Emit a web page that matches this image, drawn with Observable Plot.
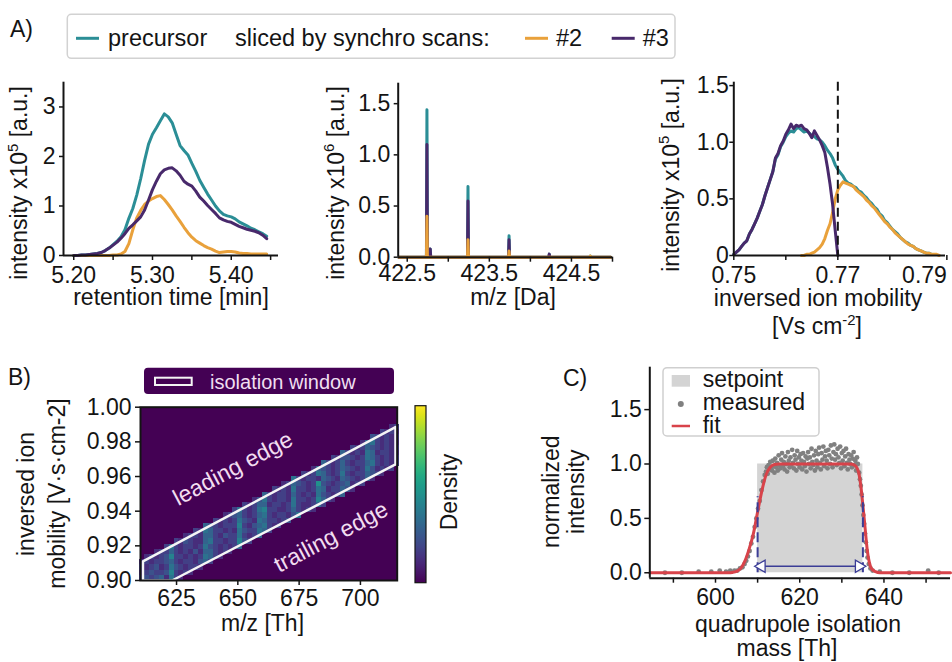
<!DOCTYPE html>
<html>
<head>
<meta charset="utf-8">
<title>Synchro scan slicing and quadrupole isolation</title>
<script src="https://cdn.jsdelivr.net/npm/d3@7"></script>
<script src="https://cdn.jsdelivr.net/npm/@observablehq/plot@0.6"></script>
<style>
  html, body { margin: 0; padding: 0; background: #fff; }
  #fig { position: relative; width: 952px; height: 662px; overflow: hidden; background: #fff; }
</style>
</head>
<body>
<div id="fig"></div>
<script>
// ---------------- A) elution profiles over retention time ----------------
const rtTime = [
  5.200,5.205,5.210,5.215,5.220,5.225,5.230,5.235,5.240,5.245,
  5.250,5.255,5.260,5.265,5.270,5.275,5.280,5.285,5.290,5.295,
  5.300,5.305,5.310,5.315,5.320,5.325,5.330,5.335,5.340,5.345,
  5.350,5.355,5.360,5.365,5.370,5.375,5.380,5.385,5.390,5.395,
  5.400,5.405,5.410,5.415,5.420,5.425,5.430,5.435,5.440,5.445];
const rtPrecursor = [
  0.00,0.00,0.01,0.01,0.02,0.03,0.04,0.06,0.10,0.15,
  0.22,0.29,0.38,0.52,0.75,0.95,1.22,1.55,1.92,2.25,
  2.45,2.58,2.72,2.86,2.80,2.68,2.45,2.22,2.12,2.03,
  1.86,1.70,1.52,1.38,1.24,1.12,1.00,0.90,0.83,0.80,
  0.78,0.74,0.68,0.64,0.60,0.55,0.52,0.48,0.44,0.39];
const rtScan3 = [
  0.00,0.00,0.01,0.01,0.02,0.03,0.04,0.06,0.10,0.15,
  0.21,0.27,0.35,0.44,0.55,0.62,0.70,0.78,0.92,1.12,
  1.33,1.50,1.65,1.73,1.76,1.77,1.71,1.62,1.50,1.44,
  1.40,1.30,1.18,1.10,1.01,0.93,0.85,0.76,0.72,0.69,
  0.67,0.63,0.59,0.56,0.53,0.51,0.49,0.46,0.41,0.34];
const rtScan2 = [
  0.00,0.00,0.00,0.00,0.00,0.00,0.00,0.00,0.00,0.00,
  0.01,0.01,0.03,0.08,0.24,0.52,0.76,0.91,1.03,1.10,
  1.15,1.19,1.21,1.13,1.03,0.92,0.80,0.69,0.57,0.46,
  0.37,0.30,0.25,0.20,0.16,0.13,0.09,0.06,0.07,0.08,
  0.08,0.07,0.05,0.04,0.04,0.03,0.03,0.03,0.03,0.03];

// ---------------- A) isotope pattern ----------------
const isoMz        = [422.74, 422.78, 423.24, 423.74, 424.23, 424.73];
const isoPrecursor = [1.44, 0.08, 0.69, 0.21, 0.03, 0.01];
const isoScan3     = [1.10, 0.08, 0.55, 0.17, 0.03, 0.00];
const isoScan2     = [0.40, 0.00, 0.17, 0.06, 0.00, 0.01];
const mzScanRange  = [422.40, 424.98];

// ---------------- A) ion mobility profiles ----------------
const mobility = [
  0.7500,0.7505,0.7510,0.7515,0.7520,0.7525,0.7530,0.7535,0.7540,0.7545,
  0.7550,0.7555,0.7560,0.7565,0.7570,0.7575,0.7580,0.7585,0.7590,0.7595,
  0.7600,0.7605,0.7610,0.7615,0.7620,0.7625,0.7630,0.7635,0.7640,0.7645,
  0.7650,0.7655,0.7660,0.7665,0.7670,0.7675,0.7680,0.7685,0.7690,0.7695,
  0.7700,0.7705,0.7710,0.7715,0.7720,0.7725,0.7730,0.7735,0.7740,0.7745,
  0.7750,0.7755,0.7760,0.7765,0.7770,0.7775,0.7780,0.7785,0.7790,0.7795,
  0.7800,0.7805,0.7810,0.7815,0.7820,0.7825,0.7830,0.7835,0.7840,0.7845,
  0.7850,0.7855,0.7860,0.7865,0.7870,0.7875,0.7880,0.7885,0.7890,0.7895];
const imPrecursor = [
  0.01,0.03,0.05,0.08,0.11,0.13,0.19,0.23,0.28,0.33,
  0.39,0.45,0.53,0.60,0.67,0.74,0.85,0.89,0.96,1.00,
  1.05,1.08,1.10,1.09,1.12,1.13,1.11,1.09,1.10,1.08,
  1.06,1.05,1.03,1.02,1.00,0.97,0.93,0.90,0.86,0.80,
  0.76,0.73,0.70,0.66,0.64,0.63,0.61,0.60,0.57,0.56,
  0.53,0.51,0.48,0.46,0.43,0.41,0.37,0.35,0.31,0.29,
  0.26,0.23,0.21,0.19,0.16,0.14,0.12,0.11,0.09,0.08,
  0.06,0.05,0.04,0.03,0.02,0.02,0.01];
const imScan3 = [
  0.01,0.03,0.05,0.08,0.11,0.13,0.19,0.23,0.28,0.33,
  0.39,0.45,0.53,0.60,0.67,0.74,0.86,0.90,0.97,1.01,
  1.07,1.11,1.16,1.12,1.15,1.14,1.15,1.12,1.11,1.08,
  1.04,1.10,1.06,1.02,0.97,0.91,0.78,0.63,0.45,0.22,
  0.00];
const imScan2 = [
  null,null,null,null,null,null,null,null,null,null,
  null,null,null,null,null,null,null,null,null,null,
  null,null,null,null,null,null,0.00,0.00,0.01,0.01,
  0.02,0.03,0.05,0.07,0.10,0.15,0.22,0.28,0.38,0.50,
  0.58,0.62,0.65,0.64,0.63,0.62,0.61,0.58,0.56,0.54,
  0.52,0.49,0.47,0.44,0.42,0.39,0.36,0.33,0.30,0.28,
  0.25,0.23,0.20,0.18,0.16,0.14,0.12,0.10,0.09,0.08,
  0.06,0.05,0.04,0.03,0.02,0.02,0.01,0.01,0.01,0.00];
const sliceBoundary = [0.77];

// ---------------- B) precursor density in m/z vs. mobility ----------------
// density level per bin (0 = empty); bins of 2 Th (columns) by 0.003 Vs/cm2 (rows)
const mzBinStart = 610, mzBinWidth = 2;
const imBinStart = 0.900, imBinHeight = 0.003;
const densityRows = [
  "343452632",
  "2343347323 2",
  "3234236432 332",
  "2323345323 32453",
  ".232347332 3236532",
  "...2335323 242553232",
  ".....36323 3236432323 5",
  ".......324 3225633233 743",
  ".........2 3325532433 63235",
  ".......... .326533232 6433653",
  ".......... ...5432333 732456323",
  ".......... .....32323 6432653323 4",
  ".......... .......234 5323563233 246",
  ".......... .........3 6323673322 353232",
  ".......... .......... .323552332 36322353",
  ".......... .......... ...2463233 2633237532",
  ".......... .......... .....53233 2532326432 35",
  ".......... .......... .......323 2633236523 3542",
  ".......... .......... .........2 3543238432 345233",
  ".......... .......... .......... .632332543 25432352",
  ".......... .......... .......... ...3236532 3632335432",
  ".......... .......... .......... .....25432 3543236423 23",
  ".......... .......... .......... .......532 3532335632 323",
  ".......... .......... .......... .........3 2443236532 323",
  ".......... .......... .......... .......... .532326523 322",
  ".......... .......... .......... .......... ...3235432 323",
  ".......... .......... .......... .......... .....25632 322",
  ".......... .......... .......... .......... .......432 323",
  ".......... .......... .......... .......... .........3 232",
  ".......... .......... .......... .......... .......... .23"
];
// isolation window polygon (m/z, 1/K0)
const windowMz = [611.3, 611.3, 714.3, 714.3, 623.2];
const windowIm = [0.900, 0.911, 0.9885, 0.967, 0.900];
const edgeLabels = ["leading edge", "trailing edge"];
const edgeLabelMz = [648.0, 688.0];
const edgeLabelIm = [0.9645, 0.9250];

// ---------------- C) quadrupole isolation profile ----------------
const setpointMass = [610, 635];
const setpointLevel = 1.0;
const measuredMass = [
  588.0,592.0,596.0,599.0,601.0,602.5,603.5,604.5,605.2,
  605.8,606.4,606.9,607.3,607.7,608.1,608.5,608.9,609.3,609.7,610.1,610.5,610.9,611.3,611.7,
  612.0,612.2,612.4,612.6,612.8,613.0,613.2,613.4,613.6,613.8,614.0,
  614.2,614.4,614.6,614.8,615.0,615.2,615.4,615.6,615.8,616.0,
  616.2,616.4,616.6,616.8,617.0,617.2,617.4,617.6,617.8,618.0,
  618.2,618.4,618.6,618.8,619.0,619.2,619.4,619.6,619.8,620.0,
  620.2,620.4,620.6,620.8,621.0,621.2,621.4,621.6,621.8,622.0,
  622.2,622.4,622.6,622.8,623.0,623.2,623.4,623.6,623.8,624.0,
  624.2,624.4,624.6,624.8,625.0,625.2,625.4,625.6,625.8,626.0,
  626.2,626.4,626.6,626.8,627.0,627.2,627.4,627.6,627.8,628.0,
  628.2,628.4,628.6,628.8,629.0,629.2,629.4,629.6,629.8,630.0,
  630.2,630.4,630.6,630.8,631.0,631.2,631.4,631.6,631.8,632.0,
  632.2,632.4,632.6,632.8,633.0,633.2,633.4,633.6,633.8,
  634.1,634.3,634.5,634.7,634.9,635.1,635.3,635.5,635.7,635.9,636.1,636.4,636.8,637.3,
  639.0,642.0,646.0,650.5,653.0];
const measuredIntensity = [
  0.00,0.00,0.01,0.01,0.02,0.01,0.02,0.02,0.02,
  0.04,0.05,0.08,0.11,0.15,0.20,0.27,0.33,0.42,0.50,0.59,0.66,0.76,0.84,0.90,
  0.93,0.97,0.91,0.99,0.95,1.02,0.96,0.94,1.03,0.98,0.92,
  1.05,0.97,1.01,0.94,1.08,0.99,0.96,1.04,1.10,0.98,
  1.02,0.95,1.07,1.00,0.93,1.11,1.03,0.97,1.06,0.99,
  1.13,1.01,0.96,1.08,1.04,0.94,1.12,1.00,1.06,0.97,
  1.09,1.03,0.95,1.10,1.02,0.98,1.07,0.93,1.05,1.11,
  1.00,1.06,0.96,1.14,1.02,0.99,1.08,0.94,1.12,1.03,
  0.97,1.09,1.15,1.01,0.95,1.10,1.04,1.16,0.98,1.07,
  1.12,1.03,0.96,1.13,1.08,1.00,1.17,1.05,0.97,1.11,
  1.18,1.04,1.09,0.99,1.14,1.06,1.01,1.16,0.96,1.10,
  1.03,1.12,0.98,1.07,1.14,1.01,0.95,1.09,1.04,1.00,
  1.08,0.97,1.05,1.11,0.99,1.03,0.94,1.06,1.00,
  0.92,0.86,0.80,0.72,0.62,0.53,0.45,0.36,0.28,0.20,0.14,0.08,0.04,0.02,
  0.01,0.00,0.00,0.02,0.00];
const fitMass = [584.4,595.0,603.0,604.0,605.0,606.0,607.0,608.0,609.0,610.0,611.0,612.0,613.0,614.0,615.0,
  624.0,632.0,633.0,633.5,634.0,634.5,635.0,635.5,636.0,636.5,637.0,638.0,639.0,645.0,655.8];
const fitIntensity = [0,0,0,0.003,0.012,0.04,0.11,0.22,0.36,0.56,0.75,0.90,0.97,0.995,1.0,
  1.0,1.0,0.99,0.97,0.92,0.80,0.62,0.42,0.22,0.10,0.04,0.01,0,0,0];
const isolationEdges = [610, 635];
const edgeMarkerTop = 0.70;
const widthArrowLevel = 0.06;

// ---------------- shared look ----------------
const W = 952, H = 662;
const FONT = '"Liberation Sans", Arial, Helvetica, sans-serif';
const INK = "#141414";
const TEAL = "#2b8e96", ORANGE = "#e9a13b", PURPLE = "#48296b";
const NAVY = "#3b3d96", RED = "#d8434a", GREY_DOT = "#808080", SETPOINT = "#d4d4d4";
const VIRIDIS_LOW = d3.interpolateViridis(0);
const fig = document.getElementById("fig");
const baseStyle = {fontFamily: FONT, fontSize: "23px", color: INK, background: "transparent", overflow: "visible"};

function mount(node, left, top) {
  node.style.position = "absolute";
  node.style.left = left + "px";
  node.style.top = top + "px";
  node.style.maxWidth = "none";
  fig.appendChild(node);
  return node;
}
function spines(xd, yd) {
  return [
    Plot.ruleX([xd[0]], {stroke: INK, strokeWidth: 2}),
    Plot.ruleY([yd[0]], {stroke: INK, strokeWidth: 2})
  ];
}
function xAxis(ticks, fmt, {minor = null, pad = 6, size = 5} = {}) {
  const marks = [Plot.axisX(ticks, {tickFormat: fmt, tickSize: size, tickPadding: pad, strokeWidth: 1.5, label: null})];
  if (minor) marks.push(Plot.axisX(minor, {tickFormat: () => "", tickSize: size, strokeWidth: 1.5, label: null}));
  return marks;
}
function yAxis(ticks, fmt, {pad = 4, size = 4} = {}) {
  return Plot.axisY(ticks, {tickFormat: fmt, tickSize: size, tickPadding: pad, strokeWidth: 1.5, label: null});
}
const f1 = d => d === 0 ? "0" : d.toFixed(1);

// ---------------- A1: retention time ----------------
const rtX = [5.187, 5.46], rtY = [0, 3.5];
mount(Plot.plot({
  width: 290, height: 240, marginLeft: 63, marginRight: 12, marginTop: 21.7, marginBottom: 45,
  x: {domain: rtX}, y: {domain: rtY}, style: baseStyle,
  marks: [
    Plot.line(rtTime, {x: rtTime, y: rtPrecursor, stroke: TEAL, strokeWidth: 3}),
    Plot.line(rtTime, {x: rtTime, y: rtScan2, stroke: ORANGE, strokeWidth: 3}),
    Plot.line(rtTime, {x: rtTime, y: rtScan3, stroke: PURPLE, strokeWidth: 3}),
    ...spines(rtX, rtY),
    ...xAxis([5.20, 5.30, 5.40], d => d.toFixed(2), {minor: [5.25, 5.35, 5.45]}),
    yAxis([0, 1, 2, 3], d => String(d))
  ]
}), 0, 60);

// ---------------- A2: isotope pattern ----------------
function isotopeProfile(heights) {
  const pts = [{mz: mzScanRange[0], v: 0}];
  isoMz.forEach((mz, i) => pts.push({mz: mz - 0.006, v: 0}, {mz, v: heights[i]}, {mz: mz + 0.006, v: 0}));
  pts.push({mz: mzScanRange[1], v: 0});
  return pts;
}
const mzX = [422.39, 425.0], mzY = [0, 1.7];
mount(Plot.plot({
  width: 280, height: 240, marginLeft: 47.7, marginRight: 18, marginTop: 22.7, marginBottom: 43.3,
  x: {domain: mzX}, y: {domain: mzY}, style: baseStyle,
  marks: [
    Plot.line(isotopeProfile(isoPrecursor), {x: "mz", y: "v", stroke: TEAL, strokeWidth: 3}),
    Plot.line(isotopeProfile(isoScan3), {x: "mz", y: "v", stroke: PURPLE, strokeWidth: 3}),
    Plot.line(isotopeProfile(isoScan2), {x: "mz", y: "v", stroke: ORANGE, strokeWidth: 3}),
    ...spines(mzX, mzY),
    ...xAxis([422.5, 423.5, 424.5], d => d.toFixed(1), {minor: [423.0, 424.0, 425.0], pad: 2}),
    yAxis([0, 0.5, 1.0, 1.5], d => d.toFixed(1))
  ]
}), 350, 60);

// ---------------- A3: ion mobility ----------------
const imX = [0.75, 0.7907], imY = [0, 1.53];
const imSeries = arr => mobility.map((_, i) => arr[i] ?? null);
mount(Plot.plot({
  width: 272, height: 240, marginLeft: 53.3, marginRight: 7, marginTop: 21.7, marginBottom: 45,
  x: {domain: imX}, y: {domain: imY}, style: baseStyle,
  marks: [
    Plot.line(mobility, {x: mobility, y: imSeries(imPrecursor), stroke: TEAL, strokeWidth: 3}),
    Plot.line(mobility, {x: mobility, y: imSeries(imScan2), stroke: ORANGE, strokeWidth: 3}),
    Plot.line(mobility, {x: mobility, y: imSeries(imScan3), stroke: PURPLE, strokeWidth: 3}),
    Plot.ruleX(sliceBoundary, {stroke: INK, strokeWidth: 2, strokeDasharray: "9,5"}),
    ...spines(imX, imY),
    ...xAxis([0.75, 0.77], d => d.toFixed(2), {minor: [0.76, 0.78]}),
    // last label kept inside the figure edge
    Plot.axisX([0.79], {tickFormat: d => d.toFixed(2), tickSize: 5, tickPadding: 6, strokeWidth: 1.5, label: null, textAnchor: "end", dx: 5}),
    yAxis([0, 0.5, 1.0, 1.5], f1, {pad: 1})
  ]
}), 680, 60);

// ---------------- B: density heatmap ----------------
const densityCells = [];
densityRows.forEach((row, r) => {
  [...row.replace(/ /g, "")].forEach((ch, c) => {
    if (ch === ".") return;
    const x1 = mzBinStart + c * mzBinWidth, y1 = imBinStart + r * imBinHeight;
    densityCells.push({x1, x2: x1 + mzBinWidth, y1, y2: y1 + imBinHeight, level: +ch});
  });
});
const windowLoop = [...windowMz.keys(), 0];
const bX = [610.3, 715.0], bY = [0.90, 1.00];
const panelB = mount(Plot.plot({
  width: 350, height: 225, marginLeft: 80, marginRight: 13.3, marginTop: 11.7, marginBottom: 40,
  x: {domain: bX}, y: {domain: bY}, style: baseStyle,
  color: {type: "linear", scheme: "viridis", domain: [0, 16]},
  marks: [
    Plot.frame({fill: VIRIDIS_LOW, stroke: "none"}),
    Plot.rect(densityCells, {x1: "x1", x2: "x2", y1: "y1", y2: "y2", fill: "level", ariaLabel: "density", shapeRendering: "crispEdges"}),
    Plot.line(windowLoop, {x: i => windowMz[i], y: i => windowIm[i], stroke: "#f5f5f5", strokeWidth: 2.5}),
    Plot.text(edgeLabels, {x: edgeLabelMz, y: edgeLabelIm, text: d => d, rotate: -28, fill: "#f2ddf0", fontSize: 23}),
    Plot.frame({stroke: INK, strokeWidth: 2}),
    ...xAxis([625, 650, 675, 700], d => String(d), {pad: 4}),
    yAxis([0.90, 0.92, 0.94, 0.96, 0.98, 1.00], d => d.toFixed(2), {pad: 4, size: 5})
  ]
}), 60, 395);
// keep the density inside the isolation window
{
  const sx = panelB.scale("x"), sy = panelB.scale("y");
  const ns = "http://www.w3.org/2000/svg";
  const defs = document.createElementNS(ns, "defs");
  const clip = document.createElementNS(ns, "clipPath");
  clip.setAttribute("id", "isolation-window-clip");
  const poly = document.createElementNS(ns, "polygon");
  poly.setAttribute("points", windowMz.map((m, i) => `${sx.apply(m)},${sy.apply(windowIm[i])}`).join(" "));
  clip.appendChild(poly);
  defs.appendChild(clip);
  panelB.insertBefore(defs, panelB.firstChild);
  const g = panelB.querySelector('g[aria-label="density"]');
  if (g) g.setAttribute("clip-path", "url(#isolation-window-clip)");
}

// ---------------- C: quadrupole isolation ----------------
const cX = [584.4, 655.8], cY = [-0.05, 1.89];
mount(Plot.plot({
  width: 362, height: 260, marginLeft: 59.3, marginRight: 2, marginTop: 11.7, marginBottom: 37.3,
  x: {domain: cX}, y: {domain: cY}, style: baseStyle,
  marks: [
    Plot.rect([setpointMass], {x1: d => d[0], x2: d => d[1], y1: 0, y2: setpointLevel, fill: SETPOINT}),
    Plot.dot(measuredMass, {x: measuredMass, y: measuredIntensity, r: 2.4, fill: GREY_DOT, stroke: "none"}),
    Plot.line(fitMass, {x: fitMass, y: fitIntensity, stroke: RED, strokeWidth: 3, curve: "monotone-x"}),
    Plot.ruleX(isolationEdges, {y1: 0, y2: edgeMarkerTop, stroke: NAVY, strokeWidth: 2, strokeDasharray: "10,5"}),
    Plot.link([isolationEdges], {x1: d => d[0], x2: d => d[1], y1: widthArrowLevel, y2: widthArrowLevel, stroke: NAVY, strokeWidth: 1.5}),
    Plot.dot([isolationEdges[0]], {x: d => d, y: widthArrowLevel, symbol: "triangle", rotate: -90, r: 4.5, dx: 4, fill: "white", stroke: NAVY, strokeWidth: 1.3}),
    Plot.dot([isolationEdges[1]], {x: d => d, y: widthArrowLevel, symbol: "triangle", rotate: 90, r: 4.5, dx: -4, fill: "white", stroke: NAVY, strokeWidth: 1.3}),
    ...spines(cX, cY),
    ...xAxis([600, 620, 640], d => String(d), {minor: [590, 610, 630, 650], pad: 5}),
    yAxis([0, 0.5, 1.0, 1.5], d => d.toFixed(1), {pad: 3, size: 5})
  ]
}), 590, 355);

// ---------------- titles, legends, colour bar ----------------
const ov = d3.select(fig).append("svg")
  .attr("width", W).attr("height", H)
  .style("position", "absolute").style("left", "0px").style("top", "0px")
  .attr("font-family", FONT);

function label(x, y, parts, {size = 23, anchor = "middle", rotate = 0, fill = INK} = {}) {
  const t = ov.append("text")
    .attr("transform", `translate(${x},${y})` + (rotate ? ` rotate(${rotate})` : ""))
    .attr("text-anchor", anchor).attr("font-size", size).attr("fill", fill);
  let raised = false;
  for (const p of [].concat(parts)) {
    const sup = typeof p === "object";
    const span = t.append("tspan").text(sup ? p.sup : p);
    if (sup) { span.attr("dy", -0.4 * size).attr("font-size", size * 0.65); raised = true; }
    else if (raised) { span.attr("dy", 0.4 * size); raised = false; }
  }
  return t;
}

// panel letters
label(10, 37, "A)", {anchor: "start"});
label(8, 385, "B)", {anchor: "start"});
label(563, 386, "C)", {anchor: "start"});

// A axis titles
label(26.8, 183, ["intensity x10", {sup: "5"}, " [a.u.]"], {rotate: -90});
label(343.5, 183, ["intensity x10", {sup: "6"}, " [a.u.]"], {rotate: -90});
label(678.5, 175, ["intensity x10", {sup: "5"}, " [a.u.]"], {rotate: -90});
label(171, 305, "retention time [min]");
label(513, 305, "m/z [Da]");
label(818, 306, "inversed ion mobility");
label(817, 334, ["[Vs cm", {sup: "-2"}, "]"]);

// A legend
ov.append("rect").attr("x", 67.3).attr("y", 14.3).attr("width", 607.7).attr("height", 44).attr("rx", 4)
  .attr("fill", "#fff").attr("stroke", "#d2d2d2").attr("stroke-width", 1.5);
[[76, TEAL], [525, ORANGE], [611.7, PURPLE]].forEach(([x, c]) =>
  ov.append("line").attr("x1", x).attr("x2", x + 23).attr("y1", 38.3).attr("y2", 38.3).attr("stroke", c).attr("stroke-width", 3));
label(108, 45.5, "precursor", {anchor: "start", size: 23.5});
label(235, 45.5, "sliced by synchro scans:", {anchor: "start", size: 23.5});
label(556, 45.5, "#2", {anchor: "start", size: 23.5});
label(642.7, 45.5, "#3", {anchor: "start", size: 23.5});

// B titles, legend and colour bar
label(33.8, 494, "inversed ion", {rotate: -90});
label(64.8, 493.5, "mobility [V\u00b7s\u00b7cm-2]", {rotate: -90});
label(262.5, 631, "m/z [Th]");
ov.append("rect").attr("x", 144).attr("y", 367.7).attr("width", 250).attr("height", 26.3).attr("rx", 4).attr("fill", VIRIDIS_LOW);
ov.append("rect").attr("x", 155).attr("y", 377.7).attr("width", 36.7).attr("height", 7.3).attr("fill", "none").attr("stroke", "#f5f5f5").attr("stroke-width", 2);
label(210, 388.5, "isolation window", {anchor: "start", size: 20, fill: "#efdff0"});
const grad = ov.append("defs").append("linearGradient").attr("id", "viridis-ramp")
  .attr("x1", 0).attr("y1", 1).attr("x2", 0).attr("y2", 0);
d3.range(0, 1.0001, 0.05).forEach(t => grad.append("stop").attr("offset", t).attr("stop-color", d3.interpolateViridis(t)));
ov.append("rect").attr("x", 415).attr("y", 405.7).attr("width", 11).attr("height", 177)
  .attr("fill", "url(#viridis-ramp)").attr("stroke", INK).attr("stroke-width", 1.2);
label(456.8, 492, "Density", {rotate: -90});

// C titles and legend
label(558.5, 491.7, "normalized", {rotate: -90});
label(583.5, 491.7, "intensity", {rotate: -90});
label(798, 632, "quadrupole isolation");
label(787, 656, "mass [Th]");
ov.append("rect").attr("x", 663).attr("y", 367.7).attr("width", 156).attr("height", 68.3).attr("rx", 4)
  .attr("fill", "#fff").attr("fill-opacity", 0.85).attr("stroke", "#cfcfcf").attr("stroke-width", 1.5);
ov.append("rect").attr("x", 671.7).attr("y", 375).attr("width", 18.3).attr("height", 11.7).attr("fill", SETPOINT);
ov.append("circle").attr("cx", 680.8).attr("cy", 404).attr("r", 3).attr("fill", GREY_DOT);
ov.append("line").attr("x1", 671.7).attr("x2", 690).attr("y1", 426).attr("y2", 426).attr("stroke", RED).attr("stroke-width", 2.5);
label(702.7, 387, "setpoint", {anchor: "start"});
label(702.7, 410, "measured", {anchor: "start"});
label(702.7, 433, "fit", {anchor: "start"});
</script>
</body>
</html>
